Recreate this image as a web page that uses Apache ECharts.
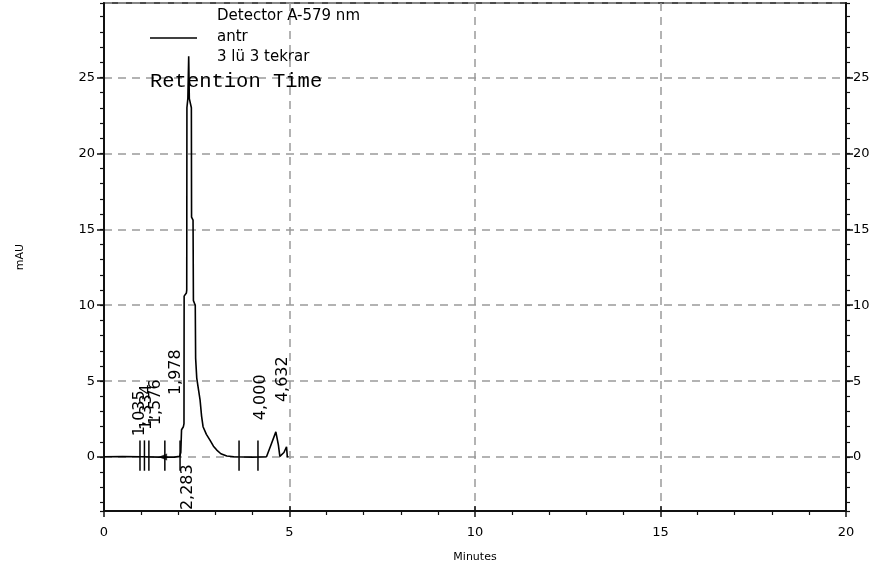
<!DOCTYPE html>
<html>
<head>
<meta charset="utf-8">
<script src="https://cdn.jsdelivr.net/npm/echarts@6/dist/echarts.min.js"></script>
<style>
  html, body { margin: 0; padding: 0; background: #fff; }
  #chart { width: 884px; height: 571px; }
</style>
</head>
<body>
<div id="chart"></div>
<script>
// Detector trace: retention time (min) and absorbance (mAU)
const traceTime = [0, 0.5, 1.0, 1.5, 1.9, 2.04, 2.07, 2.09, 2.14, 2.156, 2.16, 2.22, 2.23, 2.235, 2.26, 2.283,
  2.30, 2.355, 2.36, 2.40, 2.41, 2.46, 2.47, 2.50, 2.55, 2.59, 2.63, 2.67, 2.76, 2.86, 2.95, 3.04, 3.15,
  3.31, 3.5, 4.0, 4.38, 4.50, 4.632, 4.70, 4.74, 4.85, 4.92, 4.94, 4.97];
const traceAbs = [0.02, 0.03, 0.02, 0.0, 0.0, 0.05, 0.3, 1.8, 2.0, 2.2, 10.6, 10.8, 11.0, 23.0, 23.6, 26.4,
  23.6, 23.0, 15.8, 15.6, 10.3, 10.0, 6.5, 5.2, 4.4, 3.75, 2.7, 2.0, 1.5, 1.1, 0.72, 0.46, 0.22,
  0.07, 0.02, 0.0, 0.02, 0.8, 1.66, 0.8, 0.05, 0.3, 0.68, 0.05, 0.0];

// Integrated peaks: retention times and their printed tags
const peakTimes = [1.035, 1.334, 1.576, 1.978, 2.283, 4.000, 4.632];
const peakTags = ['1,035', '1,334', '1,576', '1,978', '2,283', '4,000', '4,632'];
// Absorbance level (mAU) where each tag's text begins
const tagLevels = [1.38, 1.78, 2.1, 4.08, -3.49, 2.43, 3.62];

// Integration event marks on the baseline (min)
const eventTimes = [0.97, 1.09, 1.21, 1.64, 2.05, 3.64, 4.15];

// Axis ranges
const timeRange = [0, 20];
const absRange = [-3.55, 29.9];

// horizontal nudge of each tag (px), layout only
const tagNudge = [-3, -6.5, -6.5, -1.5, -0.7, 8.6, 7.2];
const PX_PER_MIN = 742 / 20;

const sans = 'DejaVu Sans, Verdana, sans-serif';
const dashed = { color: '#9a9a9a', width: 1.5, type: [8, 6] };

const chart = echarts.init(document.getElementById('chart'), null, { renderer: 'canvas' });

function yAxisMajor(position, withName) {
  return {
    type: 'value', position: position,
    min: absRange[0], max: absRange[1],
    minInterval: 5, maxInterval: 5, splitNumber: 7,
    name: withName ? 'mAU' : '',
    nameLocation: 'middle', nameGap: 78, nameRotate: 90,
    nameTextStyle: { fontFamily: sans, fontSize: 11, color: '#000' },
    axisLine: { show: true, onZero: false, lineStyle: { color: '#111', width: 2 } },
    axisTick: { show: true, length: 7, lineStyle: { color: '#111', width: 1.5 } },
    axisLabel: { show: true, showMinLabel: false, showMaxLabel: false,
      margin: position === 'left' ? 9 : 7,
      fontFamily: sans, fontSize: 13, color: '#000' },
    splitLine: { show: position === 'left', lineStyle: dashed }
  };
}
function yAxisMinor(position) {
  return {
    type: 'value', position: position,
    min: absRange[0], max: absRange[1],
    minInterval: 1, maxInterval: 1, splitNumber: 33,
    axisLine: { show: false, onZero: false },
    axisTick: { show: true, length: 4, lineStyle: { color: '#111', width: 1.2 } },
    axisLabel: { show: false },
    splitLine: { show: false }
  };
}

const option = {
  animation: false,
  backgroundColor: '#fff',
  grid: { left: 104, right: 38, top: 3, bottom: 60, show: true, borderColor: '#111', borderWidth: 1.5 },
  xAxis: [
    {
      type: 'value', position: 'bottom', min: timeRange[0], max: timeRange[1], interval: 5,
      name: 'Minutes', nameLocation: 'middle', nameGap: 41,
      nameTextStyle: { fontFamily: sans, fontSize: 11, color: '#000' },
      axisLine: { onZero: false, lineStyle: { color: '#111', width: 2 } },
      axisTick: { length: 6, lineStyle: { color: '#111', width: 1.5 } },
      minorTick: { show: true, splitNumber: 5, length: 4, lineStyle: { color: '#111', width: 1.2 } },
      axisLabel: { margin: 15, fontFamily: sans, fontSize: 13, color: '#000' },
      splitLine: { show: true, lineStyle: dashed }
    },
    {
      type: 'value', position: 'bottom', min: timeRange[0], max: timeRange[1], interval: 5,
      axisLine: { show: false, onZero: false },
      axisTick: { show: true, inside: true, length: 5, lineStyle: { color: '#111', width: 1.5 } },
      axisLabel: { show: false },
      splitLine: { show: false }
    }
  ],
  yAxis: [yAxisMajor('left', true), yAxisMinor('left'), yAxisMajor('right', false), yAxisMinor('right')],
  graphic: [
    { type: 'line', shape: { x1: 150, y1: 38, x2: 197, y2: 38 }, style: { stroke: '#000', lineWidth: 1.5 } },
    { type: 'text', x: 217, y: 16, style: { text: 'Detector A-579 nm', fontFamily: sans, fontSize: 15, fill: '#000', verticalAlign: 'middle' } },
    { type: 'text', x: 217, y: 37, style: { text: 'antr', fontFamily: sans, fontSize: 15, fill: '#000', verticalAlign: 'middle' } },
    { type: 'text', x: 217, y: 57, style: { text: '3 lü 3 tekrar', fontFamily: sans, fontSize: 15, fill: '#000', verticalAlign: 'middle' } },
    { type: 'text', x: 150, y: 82, z: 100, style: { text: 'Retention Time', fontFamily: 'Liberation Mono, Courier New, monospace', fontSize: 20.5, fill: '#000', verticalAlign: 'middle' } }
  ],
  series: [
    {
      type: 'line', xAxisIndex: 0, yAxisIndex: 0,
      data: traceTime.map((t, i) => [t, traceAbs[i]]),
      showSymbol: false, silent: true,
      lineStyle: { color: '#000', width: 1.6 }
    },
    {
      type: 'custom', xAxisIndex: 0, yAxisIndex: 0, silent: true,
      data: eventTimes.map(t => [t]),
      renderItem: function (params, api) {
        const t = api.value(0);
        const a = api.coord([t, 1.1]);
        const b = api.coord([t, -0.9]);
        return { type: 'line', shape: { x1: a[0], y1: a[1], x2: b[0], y2: b[1] },
          style: { stroke: '#000', lineWidth: 1.5 } };
      }
    },
    {
      type: 'scatter', xAxisIndex: 0, yAxisIndex: 0, silent: true,
      symbol: 'triangle', symbolRotate: 90, symbolSize: [7, 9],
      itemStyle: { color: '#000' },
      data: [[1.58, 0]]
    },
    {
      type: 'scatter', xAxisIndex: 0, yAxisIndex: 0, silent: true,
      symbolSize: 0,
      data: peakTimes.map((t, i) => ({ value: [t + tagNudge[i] / PX_PER_MIN, tagLevels[i]], name: peakTags[i] })),
      label: {
        show: true, position: [0, 0], rotate: 90, align: 'left', verticalAlign: 'middle',
        formatter: p => p.name,
        fontFamily: sans, fontSize: 16, color: '#000', opacity: 1
      }
    }
  ]
};
chart.setOption(option);
</script>
</body>
</html>
